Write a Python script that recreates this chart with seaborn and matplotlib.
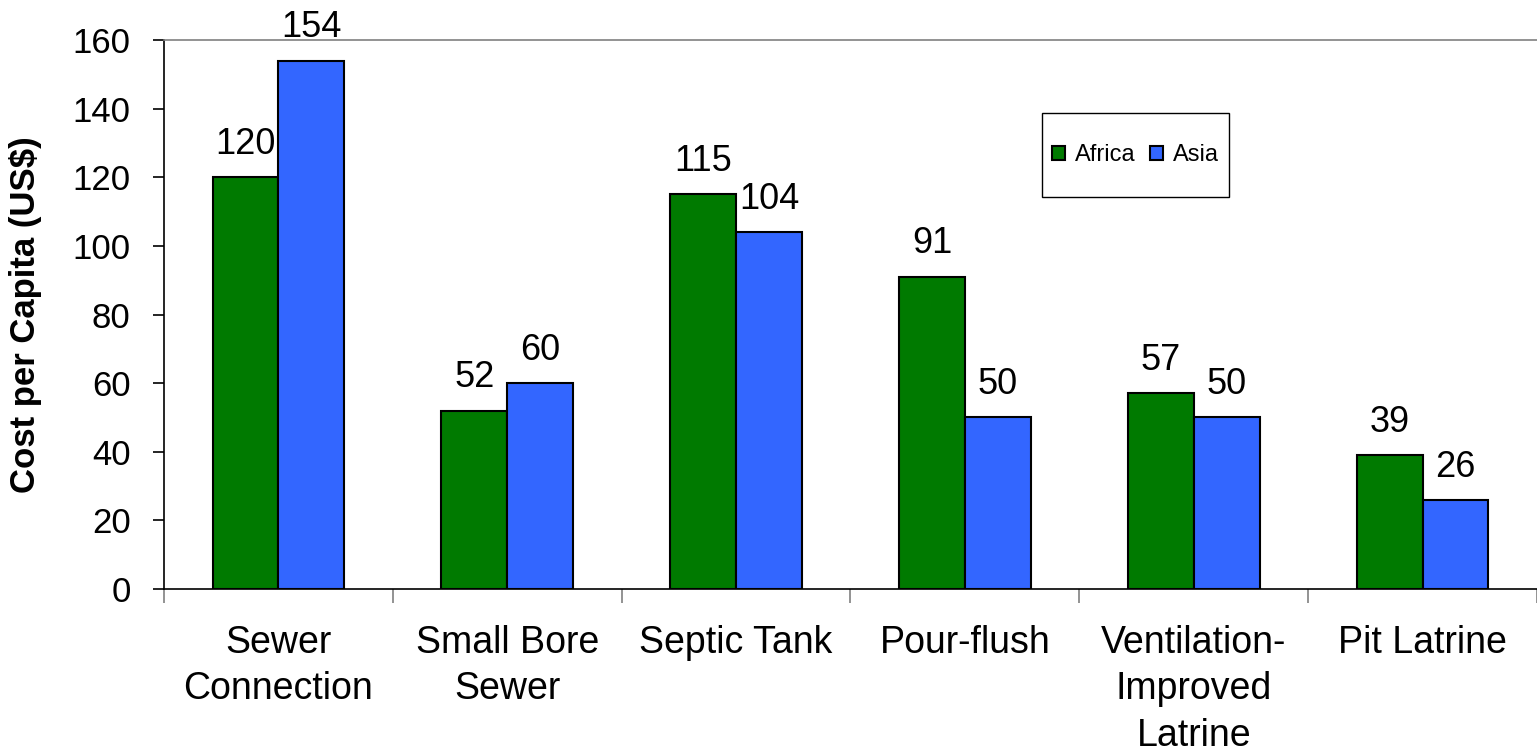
import numpy as np
import pandas as pd
import matplotlib
matplotlib.use('Agg')
import matplotlib.pyplot as plt
import seaborn as sns
from matplotlib.patches import Rectangle

categories = ['Sewer\nConnection', 'Small Bore\nSewer', 'Septic Tank', 'Pour-flush',
              'Ventilation-\nImproved\nLatrine', 'Pit Latrine']
africa = [120, 52, 115, 91, 57, 39]
asia = [154, 60, 104, 50, 50, 26]
regions = ['Africa', 'Asia']
colors = ['#007A00', '#3366FF']

sns.set_style('white')
plt.rcParams['font.family'] = ['Liberation Sans', 'DejaVu Sans']
plt.rcParams['text.color'] = 'black'
plt.rcParams['axes.labelcolor'] = 'black'
plt.rcParams['xtick.color'] = 'black'
plt.rcParams['ytick.color'] = 'black'

df = pd.DataFrame({
    'category': categories * 2,
    'region': ['Africa'] * len(categories) + ['Asia'] * len(categories),
    'cost': africa + asia,
})

fig = plt.figure(figsize=(15.37, 7.54), dpi=100)
ax = fig.add_axes([164 / 1537, 1 - 589 / 754, 1 - 164 / 1537, (589 - 40) / 754])

sns.barplot(data=df, x='category', y='cost', hue='region', order=categories,
            hue_order=regions, palette=colors, width=0.575, saturation=1,
            edgecolor='black', linewidth=1.5, ax=ax)

for container in ax.containers:
    ax.bar_label(container, fmt='%d', padding=11, fontsize=26)

ax.set_ylim(0, 160)
ax.set_xlim(-0.5, len(categories) - 0.5)
ax.set_yticks(np.arange(0, 161, 20))
ax.set_ylabel('Cost per Capita (US$)', fontsize=25, fontweight='bold', labelpad=22)
ax.set_xlabel('')

ax.tick_params(axis='y', which='major', direction='out', length=8, width=1.2,
               color='black', labelsize=25, pad=16, left=True)
ax.tick_params(axis='x', which='major', length=0, labelsize=27, pad=26)
ax.set_xticks(np.arange(-0.5, len(categories), 1), minor=True)
ax.tick_params(axis='x', which='minor', direction='out', length=10, width=1.2,
               color='gray', bottom=True)
for lbl in ax.get_xticklabels():
    lbl.set_linespacing(1.37)

ax.spines['left'].set_color('black')
ax.spines['bottom'].set_color('black')
ax.spines['left'].set_linewidth(1.2)
ax.spines['bottom'].set_linewidth(1.2)
ax.spines['top'].set_color('gray')
ax.spines['top'].set_linewidth(1.2)
ax.spines['right'].set_visible(False)

# legend box drawn separately: the original has more vertical than horizontal padding
x0, x1 = (1042 - 164) / 1373, (1229 - 164) / 1373
y0, y1 = (589 - 197) / 549, (589 - 113) / 549
ax.add_patch(Rectangle((x0, y0), x1 - x0, y1 - y0, transform=ax.transAxes,
                       facecolor='white', edgecolor='black', linewidth=1.0, zorder=5))
leg = ax.legend(loc='center', bbox_to_anchor=((x0 + x1) / 2, (y0 + y1) / 2), ncol=2,
                fontsize=17, frameon=False, handlelength=0.55, handleheight=0.55,
                handletextpad=0.42, columnspacing=0.64, borderpad=0)
leg.set_zorder(6)

fig.savefig('out.png', dpi=100)
